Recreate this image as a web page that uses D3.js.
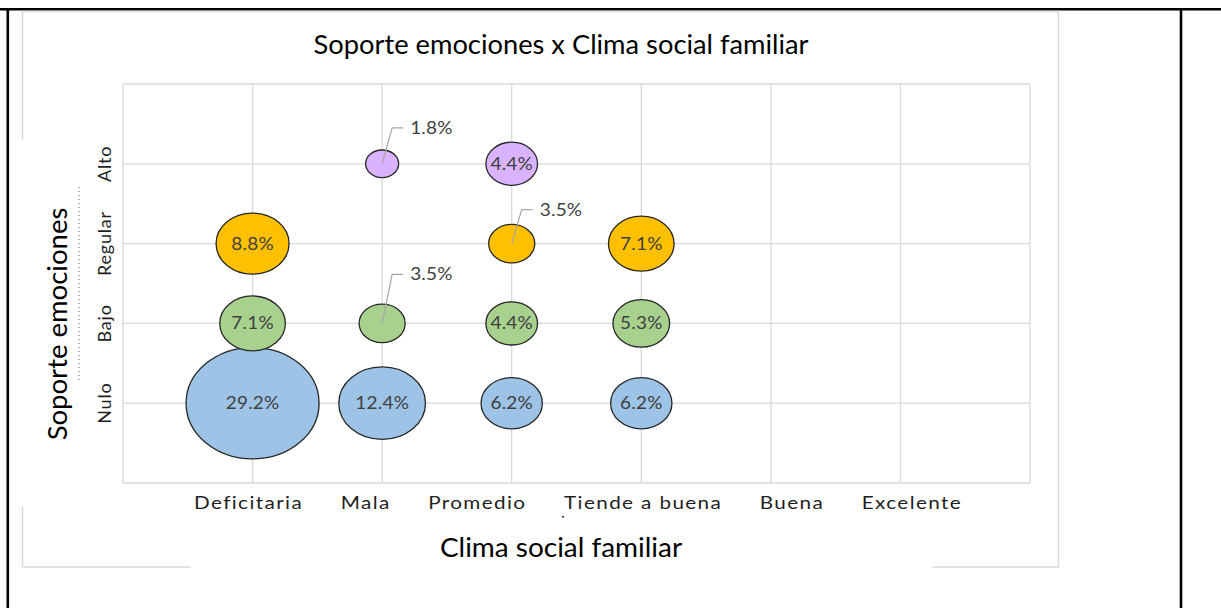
<!DOCTYPE html>
<html>
<head>
<meta charset="utf-8">
<script src="https://cdn.jsdelivr.net/npm/d3@7"></script>
<style>
  body { margin: 0; background: #fff; }
  svg { display: block; }
</style>
</head>
<body>
<div id="chart"></div>
<script>
// Categories and values (percent)
const categories = ["Deficitaria", "Mala", "Promedio", "Tiende a buena", "Buena", "Excelente"];
const levels = ["Nulo", "Bajo", "Regular", "Alto"];

const nulo    = [29.2, 12.4, 6.2, 6.2, null, null];
const bajo    = [7.1, 3.5, 4.4, 5.3, null, null];
const regular = [8.8, null, 3.5, 7.1, null, null];
const alto    = [null, 1.8, 4.4, null, null, null];

const levelColors = ["#9dc3e6", "#a9d18e", "#ffc000", "#d9b3ff"];

// bubbles whose label sits outside with a leader line
const callouts = [
    { cat: "Mala", level: "Alto", up: 36 },
    { cat: "Promedio", level: "Regular", up: 34 },
    { cat: "Mala", level: "Bajo", up: 49 }
];

const width = 1221, height = 608;
const plot = { left: 123, right: 1030, top: 84, bottom: 483 };
const stretch = 1.15;   // the source chart was pasted slightly wide

const svg = d3.select("#chart")
    .append("svg")
    .attr("width", width)
    .attr("height", height);

// Outer black frame (page table)
const frame = svg.append("g").attr("stroke", "#000").attr("stroke-width", 2.6);
frame.append("line").attr("x1", 0).attr("x2", width).attr("y1", 9.3).attr("y2", 9.3);
frame.append("line").attr("x1", 7.8).attr("x2", 7.8).attr("y1", 8).attr("y2", height);
frame.append("line").attr("x1", 1181).attr("x2", 1181).attr("y1", 8).attr("y2", height);

// Chart area border, partly hidden behind the axis title boxes
const border = svg.append("g").attr("stroke", "#d9d9d9").attr("stroke-width", 1.5).attr("fill", "none");
border.append("path").attr("d", "M22.5,140 V11.5 H1058.5 V567 H932");
border.append("path").attr("d", "M22.5,507 V567 H191");

// Scales
const x = d3.scaleLinear().domain([0, categories.length + 1]).range([plot.left, plot.right]);
const y = d3.scaleLinear().domain([0, levels.length + 1]).range([plot.bottom, plot.top]);
const rx = d3.scaleSqrt().domain([0, 29.2]).range([0, 66.5]);
const ryRatio = 0.837;

// Gridlines
const grid = svg.append("g").attr("stroke", "#d9d9d9").attr("stroke-width", 1.3);
grid.selectAll("line.v")
    .data(d3.range(0, categories.length + 2))
    .enter().append("line")
    .attr("x1", d => x(d)).attr("x2", d => x(d))
    .attr("y1", y(0)).attr("y2", y(levels.length + 1));
grid.selectAll("line.h")
    .data(d3.range(0, levels.length + 2))
    .enter().append("line")
    .attr("y1", d => y(d)).attr("y2", d => y(d))
    .attr("x1", x(0)).attr("x2", x(categories.length + 1));

// X axis labels: in the source they run as one evenly spaced line
const xAxis = svg.append("g")
    .attr("transform", `translate(0,${plot.bottom + 12})`)
    .call(d3.axisBottom(x)
        .tickValues(d3.range(1, categories.length + 1))
        .tickFormat(d => categories[d - 1])
        .tickSize(0));
xAxis.select(".domain").remove();
xAxis.selectAll(".tick text")
    .attr("font-family", "Lato, 'Open Sans', sans-serif")
    .attr("font-size", 18)
    .attr("letter-spacing", 1.2)
    .attr("fill", "#1f1f1f")
    .attr("text-anchor", "start")
    .attr("y", 0)
    .attr("dy", "0.8em")
    .attr("transform", `scale(${stretch},1)`);

const labelStart = 194, labelEnd = 962;
const widths = [];
xAxis.selectAll(".tick text").each(function() { widths.push(this.getComputedTextLength() * stretch); });
const gap = (labelEnd - labelStart - d3.sum(widths)) / (widths.length - 1);
let cursor = labelStart;
xAxis.selectAll(".tick").each(function(d, i) {
    d3.select(this).attr("transform", `translate(${cursor},0)`);
    cursor += widths[i] + gap;
});

// Y axis labels, rotated
const yAxis = svg.append("g");
yAxis.selectAll("text")
    .data(levels)
    .enter().append("text")
    .attr("transform", (d, i) => `translate(105,${y(i + 1)}) rotate(-90)`)
    .attr("text-anchor", "middle")
    .attr("dy", "0.35em")
    .attr("font-family", "Lato, 'Open Sans', sans-serif")
    .attr("font-size", 18)
    .attr("letter-spacing", 0.8)
    .attr("fill", "#1f1f1f")
    .text(d => d);

// Bubbles
const rows = [nulo, bajo, regular, alto];
const points = [];
rows.forEach((vals, li) => {
    vals.forEach((v, ci) => {
        if (v != null) points.push({ cat: categories[ci], level: levels[li], ci, li, v });
    });
});
points.sort((a, b) => b.v - a.v);

const bubbles = svg.append("g");
bubbles.selectAll("ellipse")
    .data(points)
    .enter().append("ellipse")
    .attr("cx", d => x(d.ci + 1))
    .attr("cy", d => y(d.li + 1))
    .attr("rx", d => rx(d.v))
    .attr("ry", d => rx(d.v) * ryRatio)
    .attr("fill", d => levelColors[d.li])
    .attr("stroke", "#262626")
    .attr("stroke-width", 1.3);

const isCallout = d => callouts.find(c => c.cat === d.cat && c.level === d.level);
const fmt = v => v.toFixed(1) + "%";

// Labels inside bubbles
bubbles.selectAll("text.inside")
    .data(points.filter(d => !isCallout(d)))
    .enter().append("text")
    .attr("transform", d => `translate(${x(d.ci + 1)},${y(d.li + 1)}) scale(${stretch},1)`)
    .attr("text-anchor", "middle")
    .attr("dy", "0.36em")
    .attr("font-family", "Lato, 'Open Sans', sans-serif")
    .attr("font-size", 16.5)
    .attr("letter-spacing", 0.2)
    .attr("fill", "#404040")
    .text(d => fmt(d.v));

// Labels with leader lines
const outside = points.filter(d => isCallout(d));
bubbles.selectAll("path.leader")
    .data(outside)
    .enter().append("path")
    .attr("fill", "none")
    .attr("stroke", "#a6a6a6")
    .attr("stroke-width", 1.2)
    .attr("d", d => {
        const cx = x(d.ci + 1), cy = y(d.li + 1), up = isCallout(d).up;
        return `M${cx},${cy} L${cx + 10},${cy - up} H${cx + 21}`;
    });
bubbles.selectAll("text.outside")
    .data(outside)
    .enter().append("text")
    .attr("transform", d => `translate(${x(d.ci + 1) + 28},${y(d.li + 1) - isCallout(d).up}) scale(${stretch},1)`)
    .attr("dy", "0.36em")
    .attr("font-family", "Lato, 'Open Sans', sans-serif")
    .attr("font-size", 16.5)
    .attr("letter-spacing", 0.2)
    .attr("fill", "#404040")
    .text(d => fmt(d.v));

// Titles
svg.append("text")
    .attr("transform", "translate(561,54) scale(1.05,1)")
    .attr("text-anchor", "middle")
    .attr("font-family", "Lato, 'Open Sans', sans-serif")
    .attr("font-size", 26)
    .attr("fill", "#000")
    .text("Soporte emociones x Clima social familiar");

svg.append("text")
    .attr("transform", "translate(561,557) scale(1.075,1)")
    .attr("text-anchor", "middle")
    .attr("font-family", "Lato, 'Open Sans', sans-serif")
    .attr("font-size", 26)
    .attr("fill", "#000")
    .text("Clima social familiar");

svg.append("text")
    .attr("transform", "translate(57,324) rotate(-90)")
    .attr("text-anchor", "middle")
    .attr("dy", "0.35em")
    .attr("font-family", "Lato, 'Open Sans', sans-serif")
    .attr("font-size", 27.5)
    .attr("fill", "#000")
    .text("Soporte emociones");

// faint dotted remnant beside the y title
svg.append("line")
    .attr("x1", 79).attr("x2", 79).attr("y1", 187).attr("y2", 383)
    .attr("stroke", "#44508a")
    .attr("stroke-width", 1)
    .attr("stroke-dasharray", "1,3");
svg.append("rect")
    .attr("x", 562).attr("y", 516).attr("width", 2).attr("height", 1.5)
    .attr("fill", "#333");
</script>
</body>
</html>
